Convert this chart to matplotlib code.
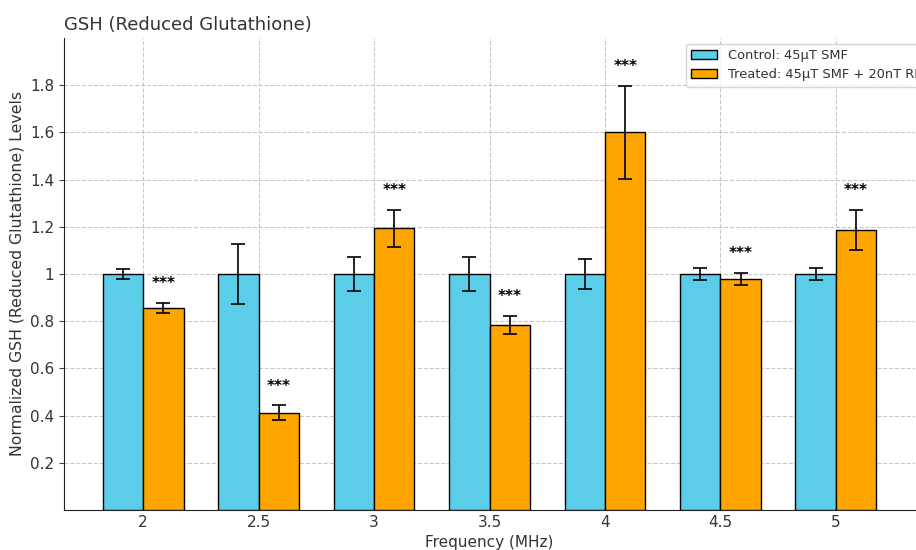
import matplotlib
matplotlib.use("Agg")
import matplotlib.pyplot as plt
import numpy as np
from matplotlib.ticker import FuncFormatter

# Frequencies (MHz) and normalized GSH levels
frequencies = ["2", "2.5", "3", "3.5", "4", "4.5", "5"]
control_mean = [1.0, 1.0, 1.0, 1.0, 1.0, 1.0, 1.0]
control_err = [0.022, 0.127, 0.074, 0.073, 0.063, 0.025, 0.025]
treated_mean = [0.855, 0.412, 1.193, 0.784, 1.600, 0.979, 1.186]
treated_err = [0.022, 0.031, 0.077, 0.039, 0.197, 0.024, 0.084]
significance = ["***", "***", "***", "***", "***", "***", "***"]
y_ticks = [0.2, 0.4, 0.6, 0.8, 1.0, 1.2, 1.4, 1.6, 1.8]

text_color = "#333333"
control_color = "#5BCDE8"
treated_color = "#FFA500"

fig = plt.figure(figsize=(9.16, 5.5), dpi=100)
ax = fig.add_axes([64 / 916, 40 / 550, 851 / 916, 472 / 550])

x = np.arange(len(frequencies))
width = 0.35

ax.bar(x - width / 2, control_mean, width, yerr=control_err, capsize=5,
       color=control_color, edgecolor="black", linewidth=1,
       error_kw=dict(ecolor="black", elinewidth=1.2, capthick=1.2),
       label="Control: 45µT SMF", zorder=3)
ax.bar(x + width / 2, treated_mean, width, yerr=treated_err, capsize=5,
       color=treated_color, edgecolor="black", linewidth=1,
       error_kw=dict(ecolor="black", elinewidth=1.2, capthick=1.2),
       label="Treated: 45µT SMF + 20nT RF", zorder=3)

for xi, m, e, s in zip(x, treated_mean, treated_err, significance):
    ax.text(xi + width / 2, m + e + 0.05, s, ha="center", va="bottom",
            fontsize=11, fontweight="bold", color="black", zorder=4)

ax.set_xlim(-0.685, 6.685)
ax.set_ylim(0, 2.0)
ax.set_xticks(x)
ax.set_xticklabels(frequencies)
ax.set_yticks(y_ticks)
ax.yaxis.set_major_formatter(FuncFormatter(lambda v, p: f"{v:g}"))
ax.tick_params(axis="both", labelsize=11, colors=text_color)
ax.tick_params(axis="both", color="#444444")
ax.tick_params(axis="x", length=0)

ax.set_xlabel("Frequency (MHz)", fontsize=11, color=text_color, labelpad=4)
ax.set_ylabel("Normalized GSH (Reduced Glutathione) Levels", fontsize=11.3,
              color=text_color)
ax.set_title("GSH (Reduced Glutathione)", fontsize=13, color=text_color,
             loc="left", pad=6)

ax.grid(True, linestyle="--", color="#bbbbbb", alpha=0.8, linewidth=0.8, zorder=0)
ax.set_axisbelow(True)
for side in ("top", "right"):
    ax.spines[side].set_visible(False)
ax.spines["left"].set_color("#222222")
ax.spines["bottom"].set_color("#222222")

leg = ax.legend(loc="upper left", bbox_to_anchor=(0.731, 0.988), fontsize=9.4,
                frameon=True, borderaxespad=0)
for t in leg.get_texts():
    t.set_color(text_color)

fig.savefig("out.png", dpi=100)
